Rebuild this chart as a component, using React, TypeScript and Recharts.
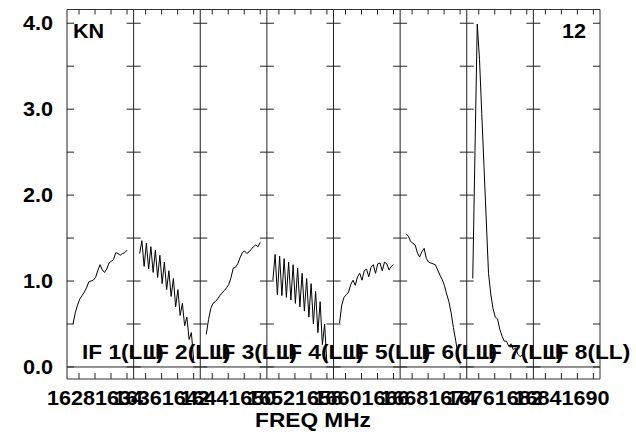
import React from 'react';
import { LineChart, Line, XAxis, YAxis, ReferenceLine } from 'recharts';

// spectrum per IF, one value per channel (channels 0..24)
const ifNames = ['IF 1(LL)', 'IF 2(LL)', 'IF 3(LL)', 'IF 4(LL)', 'IF 5(LL)', 'IF 6(LL)', 'IF 7(LL)', 'IF 8(LL)'];
const ifStartMHz = [1628, 1636, 1644, 1652, 1660, 1668, 1676, 1684];

const if1Amp = [0.5, 0.63, 0.72, 0.79, 0.83, 0.87, 0.92, 0.99, 1.0, 1.01, 1.04, 1.12, 1.19, 1.13, 1.1, 1.14, 1.21, 1.23, 1.25, 1.33, 1.32, 1.3, 1.32, 1.33, 1.36];
const if2Amp = [1.32, 1.47, 1.17, 1.44, 1.14, 1.4, 1.1, 1.36, 1.04, 1.3, 0.97, 1.22, 0.9, 1.12, 0.82, 1.03, 0.7, 0.9, 0.6, 0.74, 0.48, 0.58, 0.32, 0.4, 0.08];
const if3Amp = [0.38, 0.55, 0.68, 0.74, 0.76, 0.79, 0.83, 0.86, 0.89, 0.92, 0.96, 1.04, 1.15, 1.16, 1.2, 1.27, 1.33, 1.35, 1.32, 1.34, 1.37, 1.4, 1.42, 1.4, 1.45];
const if4Amp = [1.01, 1.31, 0.84, 1.29, 0.83, 1.26, 0.81, 1.22, 0.78, 1.19, 0.74, 1.15, 0.7, 1.09, 0.65, 1.03, 0.58, 0.97, 0.5, 0.88, 0.4, 0.76, 0.26, 0.5, 0.04];
const if5Amp = [0.51, 0.72, 0.81, 0.84, 0.87, 0.96, 1.01, 0.95, 1.05, 1.09, 1.01, 1.12, 1.14, 1.05, 1.16, 1.19, 1.09, 1.2, 1.21, 1.12, 1.22, 1.2, 1.13, 1.17, 1.19];
const if6Amp = [1.55, 1.52, 1.46, 1.44, 1.42, 1.33, 1.28, 1.34, 1.38, 1.26, 1.22, 1.21, 1.2, 1.19, 1.13, 1.07, 1.02, 0.95, 0.85, 0.76, 0.63, 0.46, 0.31, 0.16, 0.03];
const if7Amp = [1.03, 2.52, 3.99, 3.58, 2.95, 2.33, 1.71, 1.09, 0.85, 0.68, 0.58, 0.56, 0.44, 0.36, 0.3, 0.3, 0.24, 0.27, 0.2, 0.22, 0.15, 0.12, 0.14, 0.1, 0.08];
const if8Amp: number[] = [];

const allAmps = [if1Amp, if2Amp, if3Amp, if4Amp, if5Amp, if6Amp, if7Amp, if8Amp];

const yTicks = [0, 0.5, 1, 1.5, 2, 2.5, 3, 3.5, 4];
const CHAN_OFFSET = 0.25; // MHz, first channel from IF start
const CHAN_WIDTH = 0.28125; // MHz

// layout
const W = 636;
const H = 432;
const L = 67;
const R = 600;
const T = 9.5;
const B = 379;
const PW = (R - L) / 8;
const SPAN = PW / 8; // MHz shown per panel (8 px / MHz)

const FONT = 'Liberation Sans, Arial, Helvetica, sans-serif';
const SX = 1.08;

function WideText({ x, y, anchor = 'start', size = 20, children }: any) {
  return (
    <text
      transform={`translate(${x},${y}) scale(${SX},1)`}
      textAnchor={anchor}
      fontSize={size}
      fontWeight="bold"
      fontFamily={FONT}
      fill="#000"
    >
      {children}
    </text>
  );
}

function Panel({ k }: { k: number }) {
  const f0 = ifStartMHz[k];
  const domain = [f0 - 0.5, f0 - 0.5 + SPAN];
  const data = allAmps[k].map((v, i) => ({ f: f0 + CHAN_OFFSET + CHAN_WIDTH * i, v }));
  const markTicks = [f0 + 1, f0 + 3, f0 + 5, f0 + 7];
  const labelTicks = [f0, f0 + 6];
  const left = L + k * PW;
  const last = k === 7;

  const bottomTick = (p: any) => {
    const val = p.payload.value;
    if (labelTicks.includes(val)) {
      return (
        <g>
          <WideText x={p.x} y={B + 26} anchor="middle" size={20}>
            {val}
          </WideText>
        </g>
      );
    }
    return <line x1={p.x} x2={p.x} y1={B} y2={B - 6} stroke="#222" />;
  };
  const topTick = (p: any) => <line x1={p.x} x2={p.x} y1={T} y2={T + 5} stroke="#222" />;
  const leftTick = (p: any) => {
    const val = p.payload.value;
    return (
      <g>
        <line x1={k === 0 ? p.x : p.x - 7} x2={p.x + 7} y1={p.y} y2={p.y} stroke="#222" />
        {k === 0 && Number.isInteger(val) && (
          <WideText x={53} y={p.y + 7} anchor="end" size={20}>
            {val.toFixed(1)}
          </WideText>
        )}
      </g>
    );
  };
  const rightTick = (p: any) => <line x1={p.x - 7} x2={p.x} y1={p.y} y2={p.y} stroke="#222" />;

  return (
    <div style={{ position: 'absolute', left: 0, top: 0 }}>
      <LineChart
        width={W}
        height={H}
        data={data}
        margin={{ top: 0, bottom: 0, left: 0, right: last ? 0 : W - (left + PW) }}
      >
        <XAxis
          dataKey="f"
          type="number"
          domain={domain}
          allowDataOverflow
          ticks={[...labelTicks, ...markTicks]}
          interval={0}
          height={H - B}
          tickSize={0}
          tickMargin={0}
          tick={bottomTick}
          axisLine={{ stroke: '#333' }}
        />
        <XAxis
          xAxisId="top"
          orientation="top"
          dataKey="f"
          type="number"
          domain={domain}
          allowDataOverflow
          ticks={markTicks}
          interval={0}
          height={T}
          tickSize={0}
          tickMargin={0}
          tick={topTick}
          axisLine={{ stroke: '#333' }}
        />
        <YAxis
          type="number"
          domain={[-0.14, 4.16]}
          allowDataOverflow
          ticks={yTicks}
          interval={0}
          width={left}
          tickSize={0}
          tickMargin={0}
          tick={leftTick}
          axisLine={{ stroke: '#222' }}
        />
        {last && (
          <YAxis
            yAxisId="r"
            orientation="right"
            type="number"
            domain={[-0.14, 4.16]}
            allowDataOverflow
            ticks={yTicks}
            interval={0}
            width={W - R}
            tickSize={0}
            tickMargin={0}
            tick={rightTick}
            axisLine={{ stroke: '#333' }}
          />
        )}
        <ReferenceLine y={0} stroke="#222" />
        <Line
          dataKey="v"
          type="linear"
          stroke="#000"
          strokeWidth={1}
          dot={false}
          isAnimationActive={false}
        />
      </LineChart>
    </div>
  );
}

export default function App() {
  return (
    <div style={{ position: 'absolute', left: 0, top: 0, width: W, height: H, background: '#fff' }}>
      {ifNames.map((_, k) => (
        <Panel key={k} k={k} />
      ))}
      <svg width={W} height={H} style={{ position: 'absolute', left: 0, top: 0, pointerEvents: 'none' }}>
        <WideText x={73} y={38}>KN</WideText>
        <WideText x={586} y={38} anchor="end">12</WideText>
        {ifNames.map((n, k) => (
          <WideText key={n} x={L + k * PW + 15} y={359} size={21}>
            {n}
          </WideText>
        ))}
        <WideText x={313} y={427} anchor="middle" size={21}>FREQ MHz</WideText>
      </svg>
    </div>
  );
}
